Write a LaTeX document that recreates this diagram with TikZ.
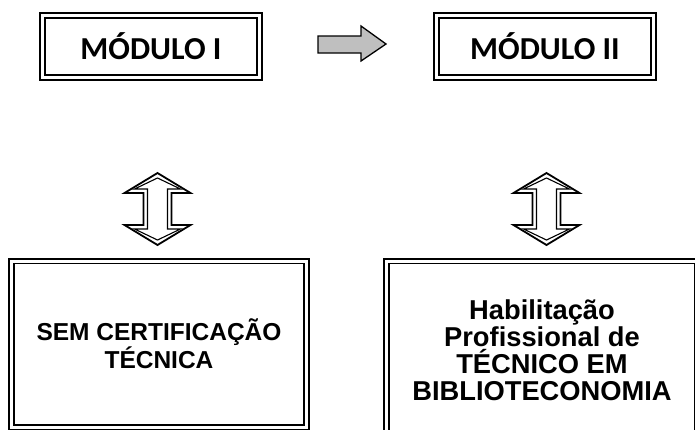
\documentclass[tikz,border=0pt]{standalone}
\usepackage{fontspec}
\setmainfont{Liberation Sans}
\newfontfamily\calibri{Carlito}
\definecolor{arrowgray}{RGB}{191,191,191}
\tikzset{
  modbox/.style={draw, double, line width=1.8pt, double distance=3pt,
    minimum width=217pt, minimum height=62pt, inner sep=0pt,
    font=\calibri\bfseries\fontsize{32}{36}\selectfont},
  certbox/.style={draw, double, line width=1.8pt, double distance=3pt,
    inner sep=0pt, align=center},
  updown/.pic={
    \draw[line width=1.8pt]
      (0,-36) -- (33,-16) -- (14,-16) -- (14,16) -- (33,16) -- (0,36)
      -- (-33,16) -- (-14,16) -- (-14,-16) -- (-33,-16) -- cycle;
    \draw[line width=1.1pt]
      (0,-31) -- (23,-20) -- (10,-20) -- (10,20) -- (23,20) -- (0,31)
      -- (-23,20) -- (-10,20) -- (-10,-20) -- (-23,-20) -- cycle;
  }
}
\begin{document}
\begin{tikzpicture}[x=1pt,y=-1pt]
  \useasboundingbox (0,0) rectangle (695,429);
  \clip (0,0) rectangle (695,429);
  % modules
  \node[modbox] (modI) at (151,46.5) {MÓDULO I};
  \node[modbox] (modII) at (545,46.5) {MÓDULO II};
  \draw[fill=arrowgray, line width=1.3pt]
    (318,36) -- (361,36) -- (361,26) -- (386,44) -- (361,61) -- (361,53)
    -- (318,53) -- cycle;
  % links down
  \pic at (157.5,209) {updown};
  \pic at (546.5,209) {updown};
  % results
  \node[certbox, minimum width=295pt, minimum height=166pt,
    font=\bfseries\fontsize{24.5}{26.5}\selectfont] (semcert) at (159,344)
    {SEM CERTIFICAÇÃO\\TÉCNICA};
  \node[certbox, minimum width=311pt, minimum height=179pt,
    font=\bfseries\fontsize{27.3}{27}\selectfont] (habil) at (542,350.5)
    {Habilitação\\Profissional de\\TÉCNICO EM\\BIBLIOTECONOMIA};
\end{tikzpicture}
\end{document}
